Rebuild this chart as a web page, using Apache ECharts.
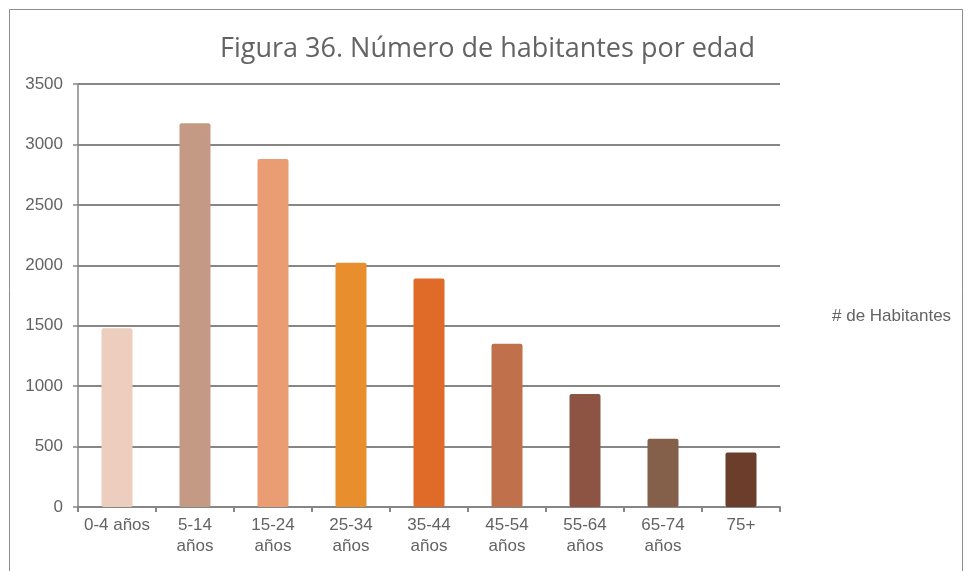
<!DOCTYPE html>
<html>
<head>
<meta charset="utf-8">
<script src="https://cdn.jsdelivr.net/npm/echarts@6/dist/echarts.min.js"></script>
<style>
  html, body { margin: 0; padding: 0; background: #fff; }
  #main { width: 975px; height: 571px; }
</style>
</head>
<body>
<div id="main"></div>
<script>
// grupos de edad y habitantes
var categorias = ['0-4 años', '5-14\naños', '15-24\naños', '25-34\naños', '35-44\naños', '45-54\naños', '55-64\naños', '65-74\naños', '75+'];
var habitantes = [1480, 3175, 2880, 2020, 1890, 1350, 935, 565, 450];
var colores = ['#EDCDBE', '#C49A85', '#EA9D72', '#E88E2C', '#E06A28', '#C0704A', '#8E5443', '#84604A', '#6A3E2A'];

var myChart = echarts.init(document.getElementById('main'));
myChart.setOption({
    animation: false,
    graphic: [{
        type: 'rect',
        shape: { x: 9.5, y: 9.5, width: 953, height: 600 },
        style: { fill: 'none', stroke: '#8c8c8c', lineWidth: 1 },
        silent: true
    }],
    title: {
        text: 'Figura 36. Número de habitantes por edad',
        left: 'center',
        top: 31,
        textStyle: {
            fontFamily: 'Open Sans',
            fontWeight: 'normal',
            fontSize: 27,
            color: '#636363'
        }
    },
    legend: {
        data: ['# de Habitantes'],
        left: 822,
        top: 303,
        icon: 'rect',
        itemWidth: 0,
        itemHeight: 0,
        textStyle: { fontFamily: 'Liberation Sans', fontSize: 17, color: '#636363' }
    },
    grid: { left: 78, right: 195, top: 84, bottom: 64 },
    xAxis: {
        type: 'category',
        data: categorias,
        axisLine: { lineStyle: { color: '#868686', width: 2 } },
        axisTick: { show: true, length: 5, lineStyle: { color: '#868686', width: 2 } },
        axisLabel: {
            fontFamily: 'Liberation Sans',
            fontSize: 17,
            color: '#636363',
            lineHeight: 21,
            margin: 8,
            interval: 0
        }
    },
    yAxis: {
        type: 'value',
        min: 0,
        max: 3500,
        interval: 500,
        axisLine: { show: true, lineStyle: { color: '#868686', width: 1.5 } },
        axisTick: { show: true, length: 5, lineStyle: { color: '#868686', width: 1.5 } },
        axisLabel: {
            fontFamily: 'Liberation Sans',
            fontSize: 17,
            color: '#636363',
            margin: 15,
            formatter: function (v) { return String(v); }
        },
        splitLine: { lineStyle: { color: '#868686', width: 2 } }
    },
    series: [{
        name: '# de Habitantes',
        type: 'bar',
        barWidth: 31,
        itemStyle: { color: '#E88E2C' },
        data: habitantes.map(function (v, i) {
            return { value: v, itemStyle: { color: colores[i], borderRadius: 2 } };
        })
    }]
});
</script>
</body>
</html>
